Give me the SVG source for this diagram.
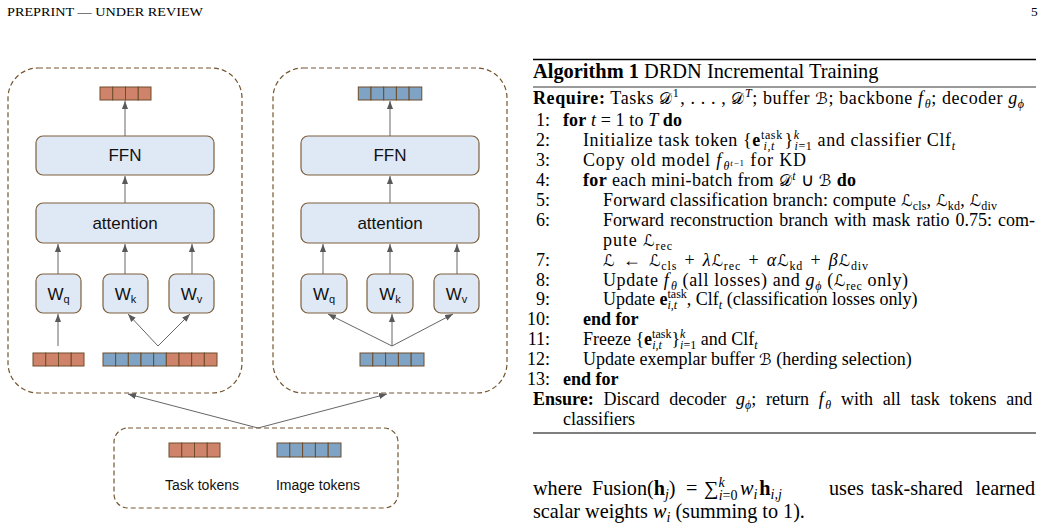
<svg xmlns="http://www.w3.org/2000/svg" width="1044" height="531" viewBox="0 0 1044 531">
<defs>
<marker id="ah" viewBox="0 0 10 10" refX="10" refY="5" markerWidth="8" markerHeight="8" orient="auto" markerUnits="userSpaceOnUse"><path d="M0,1.2 L10,5 L0,8.8 z" fill="#595959"/></marker>
<style>
.region{fill:none;stroke:#765631;stroke-width:1.2;stroke-dasharray:5 3}
.box{fill:#dfe9f5;stroke:#7d5f3c;stroke-width:1.2}
.tko{fill:#d0836b;stroke:#6e4d2a;stroke-width:1}
.tkb{fill:#7ea3c5;stroke:#6e4d2a;stroke-width:1}
.lbl{font-family:"Liberation Sans",Arial,sans-serif;fill:#111}
.conn path{fill:none;stroke:#666;stroke-width:1;marker-end:url(#ah)}
.t{font-family:"Liberation Serif","Times New Roman",serif;font-size:18px;fill:#000}
.p{font-family:"Liberation Serif","Times New Roman",serif;font-size:20.2px;fill:#000}
.b{font-weight:bold}
.i{font-style:italic}
.s{font-size:12px}
.ss{font-size:9px}
.ps{font-size:14px}
.c{font-family:"DejaVu Serif","DejaVu Sans",serif;font-size:16px;font-style:normal}
.rule{stroke:#000}
</style>
</defs>
<rect width="1044" height="531" fill="#fff"/>

<g id="header" class="t">
<text x="7" y="16" style="font-size:13.5px" textLength="196" lengthAdjust="spacingAndGlyphs">PREPRINT — UNDER REVIEW</text>
<text x="1031" y="16" style="font-size:13.5px">5</text>
</g>

<!-- Left block -->
<g id="left-block">
<rect class="region" x="8" y="68" width="234" height="325" rx="30"/>
<g id="left-out-tokens">
<rect class="tko" x="100" y="87" width="12.75" height="13"/><rect class="tko" x="112.75" y="87" width="12.75" height="13"/><rect class="tko" x="125.5" y="87" width="12.75" height="13"/><rect class="tko" x="138.25" y="87" width="12.75" height="13"/>
</g>
<g id="left-ffn"><rect class="box" x="36" y="136" width="178" height="39" rx="7"/><text class="lbl" x="125" y="161" text-anchor="middle" font-size="17">FFN</text></g>
<g id="left-attn"><rect class="box" x="36" y="203" width="178" height="40" rx="7"/><text class="lbl" x="125" y="229" text-anchor="middle" font-size="17">attention</text></g>
<g id="left-wq"><rect class="box" x="36" y="274" width="45" height="39" rx="7"/><text class="lbl" x="58.5" y="300" text-anchor="middle" font-size="17">W<tspan font-size="11" dy="3">q</tspan></text></g>
<g id="left-wk"><rect class="box" x="103" y="274" width="45" height="39" rx="7"/><text class="lbl" x="125.5" y="300" text-anchor="middle" font-size="17">W<tspan font-size="11" dy="3">k</tspan></text></g>
<g id="left-wv"><rect class="box" x="169" y="274" width="45" height="39" rx="7"/><text class="lbl" x="191.5" y="300" text-anchor="middle" font-size="17">W<tspan font-size="11" dy="3">v</tspan></text></g>
<g id="left-task-in">
<rect class="tko" x="33" y="353" width="12.75" height="13"/><rect class="tko" x="45.75" y="353" width="12.75" height="13"/><rect class="tko" x="58.5" y="353" width="12.75" height="13"/><rect class="tko" x="71.25" y="353" width="12.75" height="13"/>
</g>
<g id="left-mixed-in">
<rect class="tkb" x="103" y="353" width="12.67" height="13"/><rect class="tkb" x="115.67" y="353" width="12.67" height="13"/><rect class="tkb" x="128.33" y="353" width="12.67" height="13"/><rect class="tkb" x="141" y="353" width="12.67" height="13"/><rect class="tkb" x="153.67" y="353" width="12.67" height="13"/>
<rect class="tko" x="166.33" y="353" width="12.67" height="13"/><rect class="tko" x="179" y="353" width="12.67" height="13"/><rect class="tko" x="191.67" y="353" width="12.67" height="13"/><rect class="tko" x="204.33" y="353" width="12.67" height="13"/>
</g>
</g>

<!-- Right block -->
<g id="right-block">
<rect class="region" x="273" y="68" width="234" height="325" rx="30"/>
<g id="right-out-tokens">
<rect class="tkb" x="358.3" y="87" width="12.7" height="13"/><rect class="tkb" x="371" y="87" width="12.7" height="13"/><rect class="tkb" x="383.7" y="87" width="12.7" height="13"/><rect class="tkb" x="396.4" y="87" width="12.7" height="13"/><rect class="tkb" x="409.1" y="87" width="12.7" height="13"/>
</g>
<g id="right-ffn"><rect class="box" x="301" y="136" width="178" height="39" rx="7"/><text class="lbl" x="390" y="161" text-anchor="middle" font-size="17">FFN</text></g>
<g id="right-attn"><rect class="box" x="301" y="203" width="178" height="40" rx="7"/><text class="lbl" x="390" y="229" text-anchor="middle" font-size="17">attention</text></g>
<g id="right-wq"><rect class="box" x="301" y="274" width="46" height="39" rx="7"/><text class="lbl" x="324" y="300" text-anchor="middle" font-size="17">W<tspan font-size="11" dy="3">q</tspan></text></g>
<g id="right-wk"><rect class="box" x="367" y="274" width="46" height="39" rx="7"/><text class="lbl" x="390" y="300" text-anchor="middle" font-size="17">W<tspan font-size="11" dy="3">k</tspan></text></g>
<g id="right-wv"><rect class="box" x="434" y="274" width="45" height="39" rx="7"/><text class="lbl" x="456.5" y="300" text-anchor="middle" font-size="17">W<tspan font-size="11" dy="3">v</tspan></text></g>
<g id="right-img-in">
<rect class="tkb" x="360" y="353" width="12.8" height="13"/><rect class="tkb" x="372.8" y="353" width="12.8" height="13"/><rect class="tkb" x="385.6" y="353" width="12.8" height="13"/><rect class="tkb" x="398.4" y="353" width="12.8" height="13"/><rect class="tkb" x="411.2" y="353" width="12.8" height="13"/>
</g>
</g>

<!-- Bottom input block -->
<g id="input-block">
<rect class="region" x="114" y="428" width="284" height="80" rx="14"/>
<g id="task-tokens">
<rect class="tko" x="169" y="443" width="12.75" height="14"/><rect class="tko" x="181.75" y="443" width="12.75" height="14"/><rect class="tko" x="194.5" y="443" width="12.75" height="14"/><rect class="tko" x="207.25" y="443" width="12.75" height="14"/>
<text class="lbl" x="202" y="490" text-anchor="middle" font-size="14">Task tokens</text>
</g>
<g id="image-tokens">
<rect class="tkb" x="277" y="443" width="12.8" height="14"/><rect class="tkb" x="289.8" y="443" width="12.8" height="14"/><rect class="tkb" x="302.6" y="443" width="12.8" height="14"/><rect class="tkb" x="315.4" y="443" width="12.8" height="14"/><rect class="tkb" x="328.2" y="443" width="12.8" height="14"/>
<text class="lbl" x="318" y="490" text-anchor="middle" font-size="14">Image tokens</text>
</g>
</g>

<g id="connectors" class="conn">
<path d="M125,136 L125,101"/>
<path d="M125,203 L125,176"/>
<path d="M58,274 L58,244"/>
<path d="M125,274 L125,244"/>
<path d="M192,274 L192,244"/>
<path d="M58,346 L58,314"/>
<path d="M158,346 L128,314"/>
<path d="M158,346 L190,314"/>
<path d="M390,136 L390,101"/>
<path d="M390,203 L390,176"/>
<path d="M323,274 L323,244"/>
<path d="M390,274 L390,244"/>
<path d="M457,274 L457,244"/>
<path d="M392,346 L328,314"/>
<path d="M392,346 L392,314"/>
<path d="M392,346 L453,314"/>
<path d="M258,428 L128,394"/>
<path d="M258,428 L387,394"/>
</g>

<g id="algorithm" class="t">
<line class="rule" x1="533" y1="59.5" x2="1036" y2="59.5" stroke-width="1.6"/>
<text x="533" y="78" style="font-size:20.4px"><tspan class="b">Algorithm 1</tspan> DRDN Incremental Training</text>
<line class="rule" x1="533" y1="87" x2="1036" y2="87" stroke-width="0.8"/>
<text x="533" y="103.5" textLength="491" lengthAdjust="spacing"><tspan class="b">Require:</tspan> Tasks <tspan class="c">𝒟</tspan><tspan class="s" dy="-6.5">1</tspan><tspan dy="6.5" dx="1">, . . . , </tspan><tspan class="c">𝒟</tspan><tspan class="s i" dy="-6.5">T</tspan><tspan dy="6.5">; buffer </tspan><tspan class="c">ℬ</tspan>; backbone <tspan class="i">f</tspan><tspan class="s i" dx="1" dy="4">θ</tspan><tspan dy="-4">; decoder </tspan><tspan class="i">g</tspan><tspan class="s i" dy="4">ϕ</tspan></text>

<text x="550" y="126.3" text-anchor="end">1:</text>
<text x="563" y="126.3" textLength="119" lengthAdjust="spacing"><tspan class="b">for</tspan> <tspan class="i">t</tspan> = 1 to <tspan class="i">T</tspan> <tspan class="b">do</tspan></text>

<text x="550" y="146.2" text-anchor="end">2:</text>
<text x="583" y="146.2" textLength="372" lengthAdjust="spacing">Initialize task token {<tspan class="b">e</tspan><tspan class="s" dy="-7">task</tspan><tspan class="s i" dx="-19.3" dy="11">i,t</tspan><tspan dx="9.6" dy="-4">}</tspan><tspan class="s i" dy="-7">k</tspan><tspan class="s" dx="-5.3" dy="11"><tspan class="i">i</tspan>=1</tspan><tspan dy="-4"> and classifier Clf</tspan><tspan class="s i" dy="4">t</tspan></text>

<text x="550" y="166.1" text-anchor="end">3:</text>
<text x="583" y="166.1" textLength="223" lengthAdjust="spacing">Copy old model <tspan class="i">f</tspan><tspan class="s i" dx="1.5" dy="4">θ</tspan><tspan class="ss" dy="-4.5"><tspan class="i">t</tspan>−1</tspan><tspan dy="0.5"> for KD</tspan></text>

<text x="550" y="186" text-anchor="end">4:</text>
<text x="583" y="186" textLength="273" lengthAdjust="spacing"><tspan class="b">for</tspan> each mini-batch from <tspan class="c">𝒟</tspan><tspan class="s i" dy="-6.5">t</tspan><tspan dy="6.5"> ∪ </tspan><tspan class="c">ℬ</tspan> <tspan class="b">do</tspan></text>

<text x="550" y="205.9" text-anchor="end">5:</text>
<text x="603" y="205.9" textLength="394" lengthAdjust="spacing">Forward classification branch: compute <tspan class="c">ℒ</tspan><tspan class="s" dy="4">cls</tspan><tspan dy="-4">, </tspan><tspan class="c">ℒ</tspan><tspan class="s" dy="4">kd</tspan><tspan dy="-4">, </tspan><tspan class="c">ℒ</tspan><tspan class="s" dy="4">div</tspan></text>

<text x="550" y="225.8" text-anchor="end">6:</text>
<text x="603" y="225.8" style="word-spacing:1.6px">Forward reconstruction branch with mask ratio 0.75: com-</text>
<text x="603" y="245.7" textLength="69" lengthAdjust="spacing">pute <tspan class="c">ℒ</tspan><tspan class="s" dy="4">rec</tspan></text>

<text x="550" y="265.6" text-anchor="end">7:</text>
<text x="603" y="265.6" textLength="265" lengthAdjust="spacing"><tspan class="c">ℒ</tspan><tspan dx="2"> ← </tspan><tspan class="c" dx="2">ℒ</tspan><tspan class="s" dy="4">cls</tspan><tspan dy="-4" dx="2"> + </tspan><tspan class="i" dx="2">λ</tspan><tspan class="c">ℒ</tspan><tspan class="s" dy="4">rec</tspan><tspan dy="-4" dx="2"> + </tspan><tspan class="i" dx="2">α</tspan><tspan class="c">ℒ</tspan><tspan class="s" dy="4">kd</tspan><tspan dy="-4" dx="2"> + </tspan><tspan class="i" dx="2">β</tspan><tspan class="c">ℒ</tspan><tspan class="s" dy="4">div</tspan></text>

<text x="550" y="285.5" text-anchor="end">8:</text>
<text x="603" y="285.5" textLength="305" lengthAdjust="spacing">Update <tspan class="i">f</tspan><tspan class="s i" dx="1.5" dy="4">θ</tspan><tspan dy="-4"> (all losses) and </tspan><tspan class="i">g</tspan><tspan class="s i" dy="4">ϕ</tspan><tspan dy="-4"> (</tspan><tspan class="c">ℒ</tspan><tspan class="s" dy="4">rec</tspan><tspan dy="-4"> only)</tspan></text>

<text x="550" y="305.4" text-anchor="end">9:</text>
<text x="603" y="305.4">Update <tspan class="b">e</tspan><tspan class="s" dy="-7">task</tspan><tspan class="s i" dx="-19.3" dy="11">i,t</tspan><tspan dx="9.6" dy="-4">, Clf</tspan><tspan class="s i" dy="4">t</tspan><tspan dy="-4"> (classification losses only)</tspan></text>

<text x="550" y="325.3" text-anchor="end">10:</text>
<text x="583" y="325.3" class="b">end for</text>

<text x="550" y="345.2" text-anchor="end">11:</text>
<text x="583" y="345.2">Freeze {<tspan class="b">e</tspan><tspan class="s" dy="-7">task</tspan><tspan class="s i" dx="-19.3" dy="11">i,t</tspan><tspan dx="9.6" dy="-4">}</tspan><tspan class="s i" dy="-7">k</tspan><tspan class="s" dx="-5.3" dy="11"><tspan class="i">i</tspan>=1</tspan><tspan dy="-4"> and Clf</tspan><tspan class="s i" dy="4">t</tspan></text>

<text x="550" y="365.1" text-anchor="end">12:</text>
<text x="583" y="365.1">Update exemplar buffer <tspan class="c">ℬ</tspan> (herding selection)</text>

<text x="550" y="385" text-anchor="end">13:</text>
<text x="563" y="385" class="b">end for</text>

<text x="533" y="404.8" style="word-spacing:5.3px"><tspan class="b">Ensure:</tspan> Discard decoder <tspan class="i">g</tspan><tspan class="s i" dy="4">ϕ</tspan><tspan dy="-4">; return </tspan><tspan class="i">f</tspan><tspan class="s i" dx="1.5" dy="4">θ</tspan><tspan dy="-4"> with all task tokens and</tspan></text>
<text x="563" y="424.7">classifiers</text>
<line class="rule" x1="533" y1="433" x2="1036" y2="433" stroke-width="1.1"/>
</g>

<g id="paragraph" class="p">
<text x="533" y="495">where</text>
<text x="592" y="495">Fusion(<tspan class="b">h</tspan><tspan class="ps i" dy="4">j</tspan><tspan dy="-4">)</tspan></text>
<text x="686" y="495">=</text>
<text x="704" y="495">∑<tspan class="ps i" dy="-8">k</tspan><tspan class="ps" dx="-6" dy="12.5"><tspan class="i">i</tspan>=0</tspan></text>
<text x="740" y="495"><tspan class="i">w</tspan><tspan class="ps i" dy="4">i</tspan><tspan class="b" dx="2" dy="-4">h</tspan><tspan class="ps i" dy="4">i,j</tspan></text>
<text x="829" y="495">uses</text>
<text x="871" y="495">task-shared</text>
<text x="1035" y="495" text-anchor="end">learned</text>
<text x="533" y="518">scalar weights <tspan class="i">w</tspan><tspan class="ps i" dy="4">i</tspan><tspan dy="-4"> (summing to 1).</tspan></text>
</g>
</svg>
